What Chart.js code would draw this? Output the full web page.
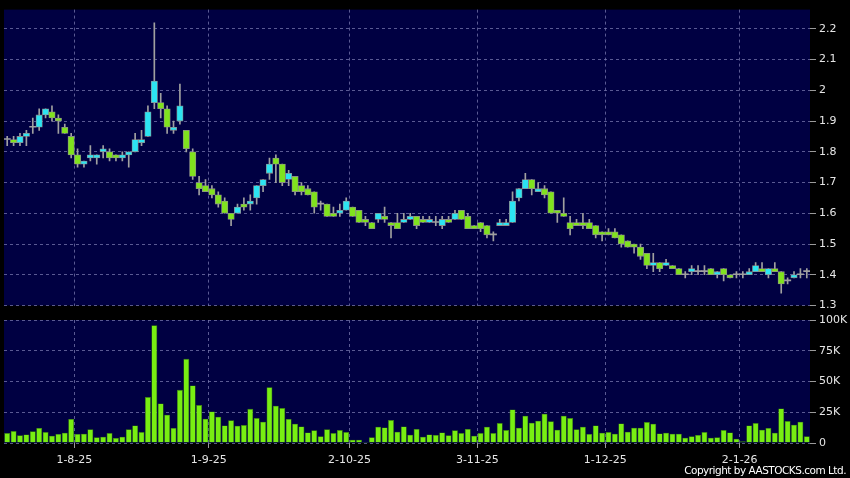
<!DOCTYPE html>
<html>
<head>
<meta charset="utf-8">
<script src="https://cdn.jsdelivr.net/npm/chart.js@4.4.1/dist/chart.umd.min.js"></script>
<style>
  html, body { margin: 0; padding: 0; background: #000; }
  #wrap { position: relative; width: 850px; height: 478px; overflow: hidden; }
  #price { position: absolute; left: 0; top: 0; }
  #vol { position: absolute; left: 0; top: 310px; }
  #copy { position: absolute; right: 4px; top: 464px; color: #fff; font: 10.5px 'DejaVu Sans', sans-serif; letter-spacing: -0.5px; white-space: nowrap; }
</style>
</head>
<body>
<div id="wrap">
  <canvas id="vol" width="850" height="168"></canvas>
  <canvas id="price" width="850" height="316"></canvas>
  <div id="copy">Copyright by AASTOCKS.com Ltd.</div>
</div>
<script>
// trading days, d-m-yy
const DATES = [
  '17-7-25', '18-7-25', '21-7-25', '22-7-25', '23-7-25', '24-7-25', '25-7-25', '28-7-25', '29-7-25', '30-7-25', '31-7-25',
  '1-8-25', '4-8-25', '5-8-25', '6-8-25', '7-8-25', '8-8-25', '11-8-25', '12-8-25', '13-8-25', '14-8-25', '15-8-25',
  '18-8-25', '19-8-25', '20-8-25', '21-8-25', '22-8-25', '25-8-25', '26-8-25', '27-8-25', '28-8-25', '29-8-25',
  '1-9-25', '2-9-25', '3-9-25', '4-9-25', '5-9-25', '8-9-25', '9-9-25', '10-9-25', '11-9-25', '12-9-25', '15-9-25',
  '16-9-25', '17-9-25', '18-9-25', '19-9-25', '22-9-25', '23-9-25', '24-9-25', '25-9-25', '26-9-25', '29-9-25', '30-9-25',
  '2-10-25', '3-10-25', '6-10-25', '8-10-25', '9-10-25', '10-10-25', '13-10-25', '14-10-25', '15-10-25', '16-10-25',
  '17-10-25', '20-10-25', '21-10-25', '22-10-25', '23-10-25', '24-10-25', '27-10-25', '28-10-25', '30-10-25', '31-10-25',
  '3-11-25', '4-11-25', '5-11-25', '6-11-25', '7-11-25', '10-11-25', '11-11-25', '12-11-25', '13-11-25', '14-11-25',
  '17-11-25', '18-11-25', '19-11-25', '20-11-25', '21-11-25', '24-11-25', '25-11-25', '26-11-25', '27-11-25', '28-11-25',
  '1-12-25', '2-12-25', '3-12-25', '4-12-25', '5-12-25', '8-12-25', '9-12-25', '10-12-25', '11-12-25', '12-12-25',
  '15-12-25', '16-12-25', '17-12-25', '18-12-25', '19-12-25', '22-12-25', '23-12-25', '24-12-25', '29-12-25', '30-12-25', '31-12-25',
  '2-1-26', '5-1-26', '6-1-26', '7-1-26', '8-1-26', '9-1-26', '12-1-26', '13-1-26', '14-1-26', '15-1-26', '16-1-26',
];

const OPEN = [
  1.84, 1.84, 1.83, 1.85, 1.88, 1.88, 1.92, 1.93, 1.91, 1.88,
  1.85, 1.79, 1.76, 1.78, 1.78, 1.80, 1.80, 1.79, 1.78, 1.79,
  1.80, 1.83, 1.85, 1.96, 1.96, 1.94, 1.87, 1.90, 1.87, 1.80,
  1.70, 1.69, 1.68, 1.66, 1.64, 1.60, 1.60, 1.63, 1.63, 1.65,
  1.69, 1.73, 1.78, 1.76, 1.71, 1.72, 1.69, 1.68, 1.67, 1.63,
  1.63, 1.60, 1.60, 1.61, 1.62, 1.61, 1.58, 1.57, 1.58, 1.59,
  1.57, 1.57, 1.57, 1.58, 1.59, 1.58, 1.57, 1.57, 1.56, 1.58,
  1.58, 1.61, 1.59, 1.56, 1.57, 1.56, 1.53, 1.56, 1.56, 1.57,
  1.65, 1.68, 1.71, 1.67, 1.68, 1.67, 1.61, 1.60, 1.57, 1.57,
  1.57, 1.57, 1.56, 1.54, 1.54, 1.54, 1.53, 1.51, 1.50, 1.49,
  1.47, 1.43, 1.44, 1.43, 1.43, 1.42, 1.40, 1.41, 1.41, 1.41,
  1.42, 1.40, 1.42, 1.40, 1.40, 1.40, 1.40, 1.41, 1.42, 1.40,
  1.42, 1.41, 1.38, 1.39, 1.40, 1.41,
];
const HIGH = [
  1.85, 1.85, 1.86, 1.87, 1.91, 1.94, 1.94, 1.95, 1.92, 1.89,
  1.86, 1.81, 1.77, 1.82, 1.79, 1.82, 1.81, 1.79, 1.80, 1.80,
  1.86, 1.87, 1.95, 2.22, 1.99, 1.95, 1.90, 2.02, 1.87, 1.81,
  1.72, 1.71, 1.69, 1.67, 1.65, 1.60, 1.63, 1.65, 1.66, 1.69,
  1.71, 1.78, 1.79, 1.76, 1.74, 1.72, 1.70, 1.69, 1.67, 1.64,
  1.63, 1.62, 1.63, 1.65, 1.62, 1.61, 1.59, 1.57, 1.60, 1.62,
  1.57, 1.60, 1.60, 1.60, 1.59, 1.59, 1.59, 1.59, 1.59, 1.59,
  1.61, 1.61, 1.60, 1.56, 1.57, 1.56, 1.54, 1.58, 1.58, 1.67,
  1.68, 1.73, 1.71, 1.70, 1.69, 1.67, 1.61, 1.65, 1.59, 1.58,
  1.60, 1.58, 1.56, 1.54, 1.55, 1.55, 1.53, 1.51, 1.50, 1.50,
  1.47, 1.47, 1.44, 1.45, 1.43, 1.42, 1.41, 1.43, 1.43, 1.43,
  1.42, 1.41, 1.42, 1.40, 1.41, 1.41, 1.42, 1.44, 1.44, 1.42,
  1.44, 1.41, 1.39, 1.41, 1.42, 1.42,
];
const LOW = [
  1.82, 1.82, 1.82, 1.82, 1.86, 1.87, 1.91, 1.90, 1.86, 1.86,
  1.78, 1.75, 1.75, 1.77, 1.76, 1.78, 1.77, 1.77, 1.77, 1.75,
  1.80, 1.82, 1.85, 1.94, 1.91, 1.86, 1.86, 1.89, 1.80, 1.71,
  1.66, 1.67, 1.65, 1.62, 1.60, 1.56, 1.60, 1.61, 1.61, 1.63,
  1.67, 1.71, 1.70, 1.69, 1.69, 1.66, 1.66, 1.66, 1.60, 1.61,
  1.59, 1.59, 1.59, 1.61, 1.59, 1.57, 1.56, 1.55, 1.57, 1.57,
  1.52, 1.55, 1.57, 1.58, 1.55, 1.57, 1.57, 1.56, 1.55, 1.57,
  1.58, 1.58, 1.55, 1.55, 1.54, 1.52, 1.51, 1.56, 1.56, 1.57,
  1.64, 1.68, 1.66, 1.67, 1.65, 1.60, 1.57, 1.59, 1.53, 1.56,
  1.55, 1.55, 1.52, 1.51, 1.53, 1.52, 1.49, 1.49, 1.47, 1.45,
  1.42, 1.41, 1.41, 1.43, 1.42, 1.40, 1.39, 1.40, 1.40, 1.40,
  1.40, 1.39, 1.38, 1.39, 1.39, 1.39, 1.40, 1.41, 1.41, 1.39,
  1.41, 1.34, 1.37, 1.39, 1.39, 1.39,
];
const CLOSE = [
  1.84, 1.83, 1.85, 1.86, 1.88, 1.92, 1.94, 1.91, 1.90, 1.86,
  1.79, 1.76, 1.77, 1.79, 1.79, 1.81, 1.78, 1.78, 1.79, 1.80,
  1.84, 1.84, 1.93, 2.03, 1.94, 1.88, 1.88, 1.95, 1.81, 1.72,
  1.68, 1.67, 1.66, 1.63, 1.60, 1.58, 1.62, 1.62, 1.64, 1.69,
  1.71, 1.76, 1.76, 1.70, 1.73, 1.67, 1.67, 1.66, 1.62, 1.63,
  1.59, 1.59, 1.61, 1.64, 1.59, 1.57, 1.57, 1.55, 1.60, 1.58,
  1.56, 1.55, 1.58, 1.59, 1.56, 1.57, 1.58, 1.57, 1.58, 1.57,
  1.60, 1.58, 1.55, 1.55, 1.55, 1.53, 1.53, 1.57, 1.57, 1.64,
  1.68, 1.71, 1.68, 1.68, 1.66, 1.60, 1.60, 1.59, 1.55, 1.56,
  1.56, 1.55, 1.53, 1.53, 1.53, 1.52, 1.50, 1.49, 1.49, 1.46,
  1.43, 1.44, 1.42, 1.44, 1.42, 1.40, 1.40, 1.42, 1.41, 1.41,
  1.40, 1.41, 1.40, 1.39, 1.40, 1.40, 1.41, 1.43, 1.41, 1.42,
  1.41, 1.37, 1.38, 1.40, 1.40, 1.41,
];
// volume in thousands of shares
const VOLUME_K = [
  8.1, 9.7, 6.2, 7.0, 9.5, 12.2, 8.9, 5.9, 7.3, 8.4,
  19.5, 7.3, 7.6, 11.1, 4.6, 5.1, 8.1, 4.1, 5.1, 11.1,
  14.3, 8.9, 37.3, 95.7, 32.2, 23.0, 12.2, 43.2, 68.4, 46.8,
  30.8, 19.7, 25.7, 21.4, 14.3, 18.4, 14.1, 14.6, 27.8, 20.3,
  17.3, 45.4, 30.3, 28.4, 19.5, 15.7, 13.5, 8.6, 10.3, 5.4,
  11.1, 8.1, 10.5, 8.9, 2.7, 2.7, 0.8, 4.6, 13.2, 12.7,
  18.6, 9.2, 13.5, 6.8, 11.4, 5.1, 7.0, 6.5, 8.6, 6.2,
  10.3, 8.1, 11.4, 5.9, 8.1, 13.2, 8.1, 16.2, 10.5, 27.3,
  12.4, 22.2, 16.5, 18.1, 23.8, 17.6, 10.8, 22.2, 20.3, 11.1,
  13.2, 7.3, 14.3, 8.4, 8.9, 7.6, 15.9, 9.2, 12.4, 12.4,
  17.0, 15.7, 7.8, 8.4, 7.6, 7.6, 4.3, 5.4, 6.5, 8.9,
  4.3, 4.6, 10.5, 8.6, 3.5, 1.4, 14.3, 16.2, 10.8, 12.2,
  8.4, 28.1, 17.8, 14.9, 17.3, 5.4,
];

const TICK_LABELS = ['1-8-25', '1-9-25', '2-10-25', '3-11-25', '1-12-25', '2-1-26'];
const PRICE_TICKS = [1.3, 1.4, 1.5, 1.6, 1.7, 1.8, 1.9, 2.0, 2.1, 2.2];
const VOL_TICKS = [0, 25, 50, 75, 100];
const VOL_TICK_LABELS = ['0', '25K', '50K', '75K', '100K'];

const NAVY = '#000042';
const GRID = 'rgba(120,120,175,0.75)';
const TICK_MARK = '#9a9a9a';
const TEXT = '#e6e6e6';
const UP = '#2ce4f2';
const DOWN = '#80e21e';
const EDGE = '#8c8c8c';
const WICK = '#a0a0a0';
const VOL_FILL = '#78ee12';
const VOL_EDGE = '#3f8a0a';
const FONT = { family: "'DejaVu Sans', sans-serif", size: 11 };

const isMonthStart = (i) => i != null && TICK_LABELS.includes(DATES[i]);

const plotBg = {
  id: 'plotBg',
  beforeDraw(chart) {
    const { ctx, chartArea: a } = chart;
    ctx.save();
    ctx.fillStyle = NAVY;
    ctx.fillRect(a.left, a.top, a.right - a.left, a.bottom - a.top);
    ctx.restore();
  },
};

function xAxis(showLabels, height) {
  return {
    offset: true,
    grid: {
      offset: true,
      color: (c) => (isMonthStart(c.index) ? GRID : 'rgba(0,0,0,0)'),
      tickColor: (c) => (showLabels && isMonthStart(c.index) ? TICK_MARK : 'rgba(0,0,0,0)'),
      drawTicks: showLabels,
      tickLength: 5,
    },
    border: { display: false, dash: [3, 3] },
    ticks: {
      display: showLabels,
      autoSkip: false,
      maxRotation: 0,
      minRotation: 0,
      color: TEXT,
      font: FONT,
      padding: 6,
      labelOffset: -3.2,
      callback: (v, i) => (isMonthStart(i) ? DATES[i] : ''),
    },
    afterFit: (s) => { s.height = height; },
  };
}

function yAxis(min, max, ticks, labelFor) {
  return {
    position: 'right',
    min,
    max,
    afterBuildTicks: (s) => { s.ticks = ticks.map((v) => ({ value: v })); },
    afterFit: (s) => { s.width = 40; },
    grid: { color: GRID, tickColor: TICK_MARK, tickLength: 6 },
    border: { display: false, dash: [3, 3] },
    ticks: { color: TEXT, font: FONT, padding: 3, callback: labelFor },
  };
}

const common = {
  responsive: false,
  animation: false,
  devicePixelRatio: 1,
  plugins: { legend: { display: false }, tooltip: { enabled: false } },
};

new Chart(document.getElementById('price'), {
  type: 'bar',
  data: {
    labels: DATES,
    datasets: [
      {
        data: LOW.map((l, i) => [l, HIGH[i]]),
        backgroundColor: WICK,
        barThickness: 1,
        grouped: false,
        order: 2,
      },
      {
        data: OPEN.map((o, i) => [o, CLOSE[i]]),
        backgroundColor: OPEN.map((o, i) => (CLOSE[i] > o ? UP : CLOSE[i] < o ? DOWN : WICK)),
        borderColor: EDGE,
        borderWidth: OPEN.map((o, i) => (CLOSE[i] === o ? 0 : 0.8)),
        borderSkipped: false,
        minBarLength: 1,
        barPercentage: 1,
        categoryPercentage: 1,
        grouped: false,
        order: 1,
      },
    ],
  },
  options: {
    ...common,
    layout: { padding: { top: 6, left: 4, right: 0, bottom: 0 } },
    scales: {
      x: xAxis(false, 10.5),
      y: yAxis(1.3, 2.2627, PRICE_TICKS, (v) => String(v)),
    },
  },
  plugins: [plotBg],
});

new Chart(document.getElementById('vol'), {
  type: 'bar',
  data: {
    labels: DATES,
    datasets: [{
      data: VOLUME_K,
      backgroundColor: VOL_FILL,
      borderColor: VOL_EDGE,
      borderWidth: 0.6,
      borderSkipped: false,
      barPercentage: 0.92,
      categoryPercentage: 1,
    }],
  },
  options: {
    ...common,
    layout: { padding: { top: 10, left: 4, right: 0, bottom: 0 } },
    scales: {
      x: xAxis(true, 35),
      y: yAxis(0, 100, VOL_TICKS, (v) => VOL_TICK_LABELS[VOL_TICKS.indexOf(v)]),
    },
  },
  plugins: [plotBg],
});
</script>
</body>
</html>
